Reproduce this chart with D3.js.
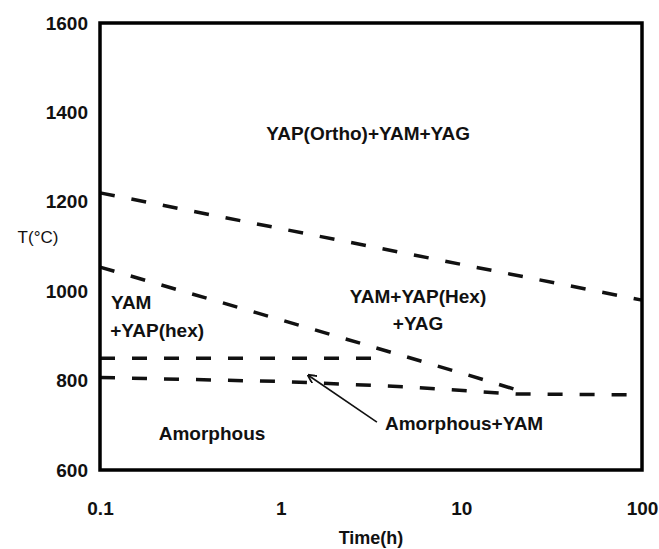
<!DOCTYPE html>
<html>
<head>
<meta charset="utf-8">
<script src="https://cdn.jsdelivr.net/npm/d3@7"></script>
<style>
  body { margin: 0; background: #fff; }
  svg text { font-family: "Liberation Sans", Arial, sans-serif; }
</style>
</head>
<body>
<div id="chart"></div>
<script>
// axis ticks
var timeTicks = [0.1, 1, 10, 100];
var tempTicks = [600, 800, 1000, 1200, 1400, 1600];

// phase boundaries, [time (h), T (°C)]
var orthoBoundary = [[0.1, 1220], [1, 1140], [10, 1060], [100, 980]];
var hexBoundary = [[0.1, 1054], [1, 936], [10, 817], [20, 780]];
var yamBoundary = [[0.1, 850], [3.5, 850]];
var amorphBoundary = [[0.1, 807], [1, 798], [5, 786], [20, 770], [100, 768]];

// region labels
var regionNames = ['YAP(Ortho)+YAM+YAG', 'YAM', '+YAP(hex)', 'YAM+YAP(Hex)', '+YAG', 'Amorphous', 'Amorphous+YAM'];

// frame of the plot
var margin = {top: 23, right: 17, bottom: 79, left: 100},
    width = 659 - margin.left - margin.right,
    height = 549 - margin.top - margin.bottom;

var x = d3.scaleLog().domain([0.1, 100]).range([0, width]);
var y = d3.scaleLinear().domain([600, 1600]).range([height, 0]);

var svg = d3.select('#chart').append('svg')
  .attr('width', 659)
  .attr('height', 549)
  .append('g')
  .attr('transform', 'translate(' + margin.left + ',' + margin.top + ')');

// axes: labels only, frame drawn separately
var xAxis = svg.append('g')
  .attr('transform', 'translate(0,' + height + ')')
  .call(d3.axisBottom(x).tickValues(timeTicks).tickFormat(d3.format('')).tickSize(0).tickPadding(32));

var yAxis = svg.append('g')
  .call(d3.axisLeft(y).tickValues(tempTicks).tickFormat(d3.format('d')).tickSize(0).tickPadding(12));

[xAxis, yAxis].forEach(function(a) {
  a.select('.domain').remove();
  a.selectAll('text')
    .attr('font-family', '"Liberation Sans", Arial, sans-serif')
    .attr('font-size', 19)
    .attr('font-weight', 'bold')
    .attr('fill', '#111');
});

// axis titles
svg.append('text')
  .attr('x', width / 2)
  .attr('y', height + 74)
  .attr('text-anchor', 'middle')
  .attr('font-size', 18)
  .attr('font-weight', 'bold')
  .attr('fill', '#111')
  .text('Time(h)');

svg.append('text')
  .attr('x', -62)
  .attr('y', y(1108))
  .attr('text-anchor', 'middle')
  .attr('font-size', 17)
  .attr('fill', '#111')
  .text('T(°C)');

// dashed boundaries
var line = d3.line()
  .x(function(d) { return x(d[0]); })
  .y(function(d) { return y(d[1]); });

svg.selectAll('.boundary')
  .data([orthoBoundary, hexBoundary, yamBoundary, amorphBoundary])
  .enter().append('path')
  .attr('class', 'boundary')
  .attr('d', line)
  .attr('fill', 'none')
  .attr('stroke', '#111')
  .attr('stroke-width', 3.5)
  .attr('stroke-dasharray', '15,17');

// region labels, placed in data coordinates
var labelAnchors = [
  {t: 3.05, v: 1338, anchor: 'middle'},
  {t: 0.115, v: 960, anchor: 'start'},
  {t: 0.114, v: 897, anchor: 'start'},
  {t: 5.76, v: 974, anchor: 'middle'},
  {t: 5.76, v: 913, anchor: 'middle'},
  {t: 0.417, v: 667, anchor: 'middle'},
  {t: 3.78, v: 690, anchor: 'start'}
];

svg.selectAll('.region')
  .data(regionNames)
  .enter().append('text')
  .attr('class', 'region')
  .attr('x', function(d, i) { return x(labelAnchors[i].t); })
  .attr('y', function(d, i) { return y(labelAnchors[i].v); })
  .attr('text-anchor', function(d, i) { return labelAnchors[i].anchor; })
  .attr('font-size', 19)
  .attr('font-weight', 'bold')
  .attr('fill', '#111')
  .text(function(d) { return d; });

// arrow from "Amorphous+YAM" to the thin region
svg.append('defs').append('marker')
  .attr('id', 'head')
  .attr('viewBox', '0 -5 10 10')
  .attr('refX', 9)
  .attr('refY', 0)
  .attr('markerWidth', 9)
  .attr('markerHeight', 9)
  .attr('markerUnits', 'userSpaceOnUse')
  .attr('orient', 'auto')
  .append('path')
  .attr('d', 'M0,-5L10,0L0,5')
  .attr('fill', 'none')
  .attr('stroke', '#111')
  .attr('stroke-width', 2);

svg.append('line')
  .attr('x1', x(3.41)).attr('y1', y(707))
  .attr('x2', x(1.42)).attr('y2', y(812))
  .attr('stroke', '#111')
  .attr('stroke-width', 1.6)
  .attr('marker-end', 'url(#head)');

// frame
svg.append('rect')
  .attr('width', width)
  .attr('height', height)
  .attr('fill', 'none')
  .attr('stroke', '#000')
  .attr('stroke-width', 3.5);
</script>
</body>
</html>
